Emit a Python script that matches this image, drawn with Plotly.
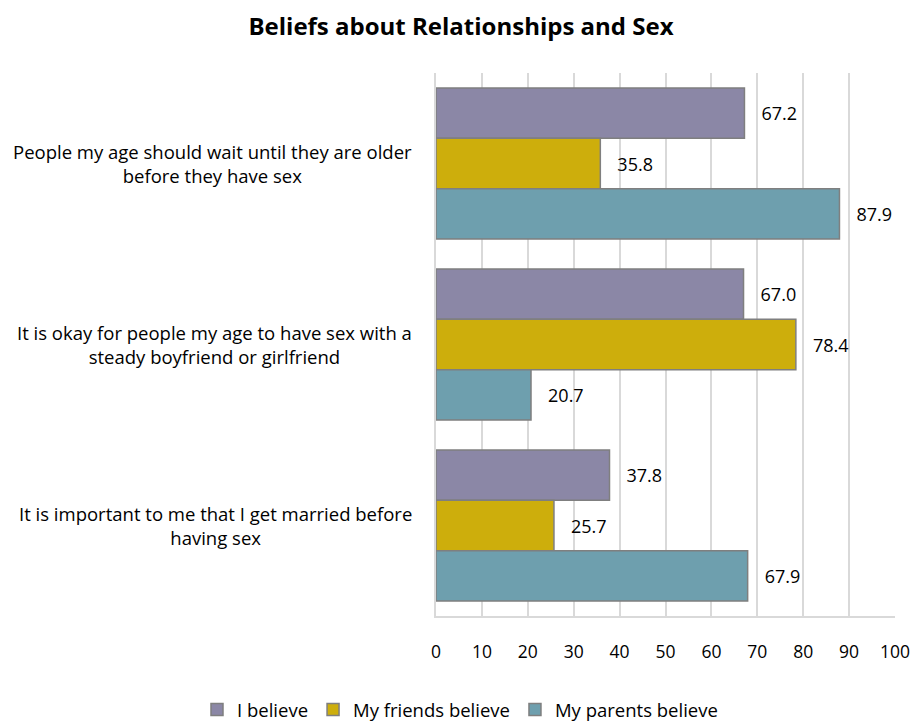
import plotly.graph_objects as go

categories = [
    "People my age should wait until they are older<br>before they have sex",
    "It is okay for people my age to have sex with a<br>steady boyfriend or girlfriend",
    "It is important to me that I get married before<br>having sex",
]
series_names = ["I believe", "My friends believe", "My parents believe"]
i_believe = [67.2, 67.0, 37.8]
friends_believe = [35.8, 78.4, 25.7]
parents_believe = [87.9, 20.7, 67.9]
colors = ["#8B87A6", "#CDAE0C", "#6E9FAE"]
x_ticks = [0, 10, 20, 30, 40, 50, 60, 70, 80, 90, 100]

FONT = "'Open Sans', sans-serif"

fig = go.Figure()
for name, vals, col in zip(series_names, [i_believe, friends_believe, parents_believe], colors):
    fig.add_trace(go.Bar(
        y=categories, x=vals, name=name, orientation="h",
        marker=dict(color=col, line=dict(color="#7f7f7f", width=1.5)),
        text=[f"   {v:.1f}" for v in vals], textposition="outside",
        textfont=dict(size=18, color="#000000", family=FONT),
        cliponaxis=False,
    ))

# category labels, centered multi-line text to the left of the plot
for i, c in enumerate(categories):
    fig.add_annotation(
        x=0, xref="paper", y=i, yref="y", xanchor="right", yanchor="middle",
        xshift=-22, text=c, showarrow=False, align="center",
        font=dict(size=18.5, color="#000000", family=FONT),
    )

fig.update_layout(
    width=913, height=725,
    margin=dict(l=436, r=18, t=73, b=109, autoexpand=False),
    paper_bgcolor="white", plot_bgcolor="white",
    barmode="group", bargap=0.166, bargroupgap=0,
    title=dict(text="<b>Beliefs about Relationships and Sex</b>", x=461 / 913, xanchor="center",
               y=1 - 27 / 725, yanchor="middle",
               font=dict(size=24, color="#000000", family=FONT)),
    xaxis=dict(range=[0, 100], tickvals=x_ticks, showgrid=True, gridcolor="#d9d9d9",
               gridwidth=1.5, zeroline=False, showline=True, linecolor="#d9d9d9", linewidth=1.5,
               ticks="", ticklabelstandoff=19,
               tickfont=dict(size=17.5, color="#000000", family=FONT)),
    yaxis=dict(autorange="reversed", showticklabels=False, showgrid=False, zeroline=False,
               showline=True, linecolor="#d9d9d9", linewidth=1.5, ticks=""),
    legend=dict(orientation="h", x=(197 - 436) / 459, xanchor="left",
                y=(616 - 710) / 543, yanchor="middle",
                itemwidth=30,
                font=dict(size=18.5, color="#000000", family=FONT)),
    showlegend=True,
)

fig.write_html("out.html")
